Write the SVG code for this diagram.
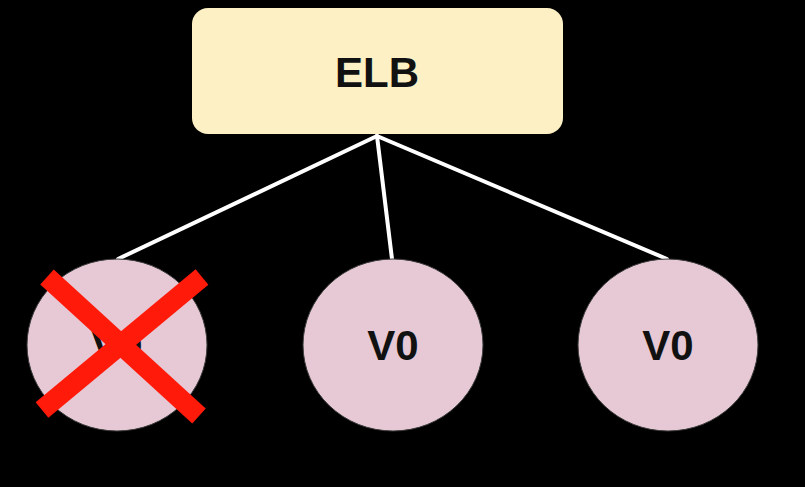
<svg xmlns="http://www.w3.org/2000/svg" width="805" height="487" viewBox="0 0 805 487">
<style>
.conn{stroke:#ffffff;stroke-width:4;stroke-linecap:round}
.vm{fill:#e6c9d5;stroke:#3a3a3a;stroke-width:1}
.lbl{font-family:"Liberation Sans",Arial,sans-serif;font-weight:bold;font-size:42px;fill:#111111;text-anchor:middle}
.cross{stroke:#ff1a0a;stroke-width:20;stroke-linecap:butt}
</style>
<rect width="805" height="487" fill="#000000"/>
<g id="connectors">
<line class="conn" x1="377" y1="136" x2="118" y2="259"/>
<line class="conn" x1="377" y1="136" x2="392" y2="259"/>
<line class="conn" x1="377" y1="136" x2="667" y2="259"/>
</g>
<g id="elb">
<rect x="192" y="8" width="371" height="126" rx="16" ry="16" fill="#fdf0c4"/>
<text class="lbl" x="377" y="87">ELB</text>
</g>
<g id="vm1">
<ellipse class="vm" cx="117" cy="345" rx="90" ry="86"/>
<text class="lbl" x="117" y="360">V0</text>
<g id="failed">
<line class="cross" x1="47" y1="277" x2="199" y2="416"/>
<line class="cross" x1="202" y1="277" x2="42" y2="410"/>
</g>
</g>
<g id="vm2">
<ellipse class="vm" cx="393" cy="345" rx="90" ry="86"/>
<text class="lbl" x="393" y="360">V0</text>
</g>
<g id="vm3">
<ellipse class="vm" cx="668" cy="345" rx="90" ry="86"/>
<text class="lbl" x="668" y="360">V0</text>
</g>
</svg>
